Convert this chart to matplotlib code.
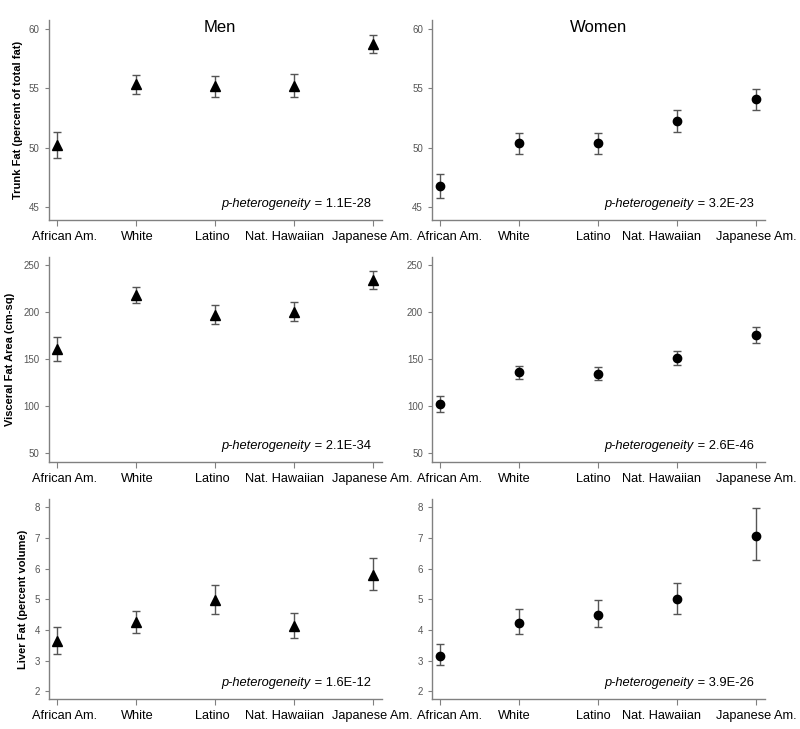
import matplotlib
matplotlib.use("Agg")
from matplotlib import pyplot as plt

plt.rcParams['font.family'] = ['Liberation Sans', 'DejaVu Sans']

groups = ['African Am.', 'White', 'Latino', 'Nat. Hawaiian', 'Japanese Am.']

# Trunk fat (percent of total fat)
trunk_men = [50.2, 55.35, 55.2, 55.15, 58.7]
trunk_men_lo = [49.1, 54.5, 54.3, 54.25, 57.95]
trunk_men_hi = [51.3, 56.15, 56.0, 56.2, 59.5]
trunk_women = [46.8, 50.4, 50.4, 52.25, 54.05]
trunk_women_lo = [45.8, 49.5, 49.5, 51.3, 53.15]
trunk_women_hi = [47.75, 51.25, 51.25, 53.2, 54.95]

# Visceral fat area (cm-sq)
visc_men = [161, 218.5, 197.5, 200, 234.5]
visc_men_lo = [148.5, 210, 188, 190.5, 225]
visc_men_hi = [173.5, 226.5, 207.5, 211, 243.5]
visc_women = [102, 136, 134.5, 151, 176]
visc_women_lo = [94, 129, 127.5, 144, 167.5]
visc_women_hi = [110.5, 142.5, 141.5, 159, 184.5]

# Liver fat (percent volume)
liver_men = [3.63, 4.26, 4.97, 4.14, 5.78]
liver_men_lo = [3.22, 3.91, 4.53, 3.74, 5.30]
liver_men_hi = [4.10, 4.62, 5.47, 4.55, 6.33]
liver_women = [3.16, 4.23, 4.50, 5.00, 7.06]
liver_women_lo = [2.84, 3.86, 4.09, 4.52, 6.27]
liver_women_hi = [3.54, 4.67, 4.98, 5.53, 7.97]

p_values = [['1.1E-28', '3.2E-23'], ['2.1E-34', '2.6E-46'], ['1.6E-12', '3.9E-26']]
ylabels = ['Trunk Fat (percent of total fat)', 'Visceral Fat Area (cm-sq)', 'Liver Fat (percent volume)']

rows = [
    [(trunk_men, trunk_men_lo, trunk_men_hi), (trunk_women, trunk_women_lo, trunk_women_hi)],
    [(visc_men, visc_men_lo, visc_men_hi), (visc_women, visc_women_lo, visc_women_hi)],
    [(liver_men, liver_men_lo, liver_men_hi), (liver_women, liver_women_lo, liver_women_hi)],
]
ylims = [(43.9, 60.7), (40.5, 258.5), (1.74, 8.26)]
yticks = [[45, 50, 55, 60], [50, 100, 150, 200, 250], [2, 3, 4, 5, 6, 7, 8]]
ylabel_x = [-0.078, -0.102, -0.063]
# the original group labels are not quite centred under their ticks (shift in points)
label_shift = [[6, 1, -1.5, -7, -0.5], [7, -3.5, -3.5, -11.5, 0]]

fig = plt.figure(figsize=(8, 7.29), dpi=100)
col_x = [0.061, 0.54]
row_y = [(0.698, 0.274), (0.366, 0.281), (0.041, 0.274)]

for r in range(3):
    for c in range(2):
        ax = fig.add_axes([col_x[c], row_y[r][0], 0.416, row_y[r][1]])
        vals, lo, hi = rows[r][c]
        x = list(range(len(groups)))
        err = [[v - l for v, l in zip(vals, lo)], [h - v for v, h in zip(vals, hi)]]
        ax.errorbar(x, vals, yerr=err, fmt='none', ecolor='#555555',
                    elinewidth=1.0, capsize=3, capthick=1.0)
        if c == 0:
            ax.plot(x, vals, linestyle='none', marker='^', markersize=7, color='black')
        else:
            ax.plot(x, vals, linestyle='none', marker='o', markersize=6, color='black')

        ax.set_xlim(-0.1, 4.11)
        ax.set_ylim(*ylims[r])
        ax.set_yticks(yticks[r])
        ax.set_xticks(x)
        ax.set_xticklabels([])
        for i, name in enumerate(groups):
            ax.annotate(name, xy=(i, 0), xycoords=ax.get_xaxis_transform(),
                        xytext=(label_shift[c][i], -8), textcoords='offset points',
                        ha='center', va='top', fontsize=9.2)
        for s in ['top', 'right']:
            ax.spines[s].set_visible(False)
        for s in ['left', 'bottom']:
            ax.spines[s].set_color('#808080')
            ax.spines[s].set_linewidth(1.0)
        ax.tick_params(axis='y', colors='#808080', labelcolor='#555555', labelsize=7, length=3)
        ax.tick_params(axis='x', colors='#808080', length=4)

        if c == 0:
            ax.set_ylabel(ylabels[r], fontsize=8, fontweight='bold')
            ax.yaxis.set_label_coords(ylabel_x[r], 0.5)

        # p-heterogeneity annotation, right aligned
        t2 = ax.text(0.967, 0.08, ' = ' + p_values[r][c], fontsize=9.3,
                     transform=ax.transAxes, ha='right', va='center')
        ax.annotate('p-heterogeneity', xy=(0, 0.5), xycoords=t2, style='italic',
                    fontsize=9.3, ha='right', va='center')

        if r == 0:
            ax.text(0.513 if c == 0 else 0.50, 0.965, 'Men' if c == 0 else 'Women',
                    fontsize=12, transform=ax.transAxes, ha='center', va='center')

plt.savefig('out.png', dpi=100)
